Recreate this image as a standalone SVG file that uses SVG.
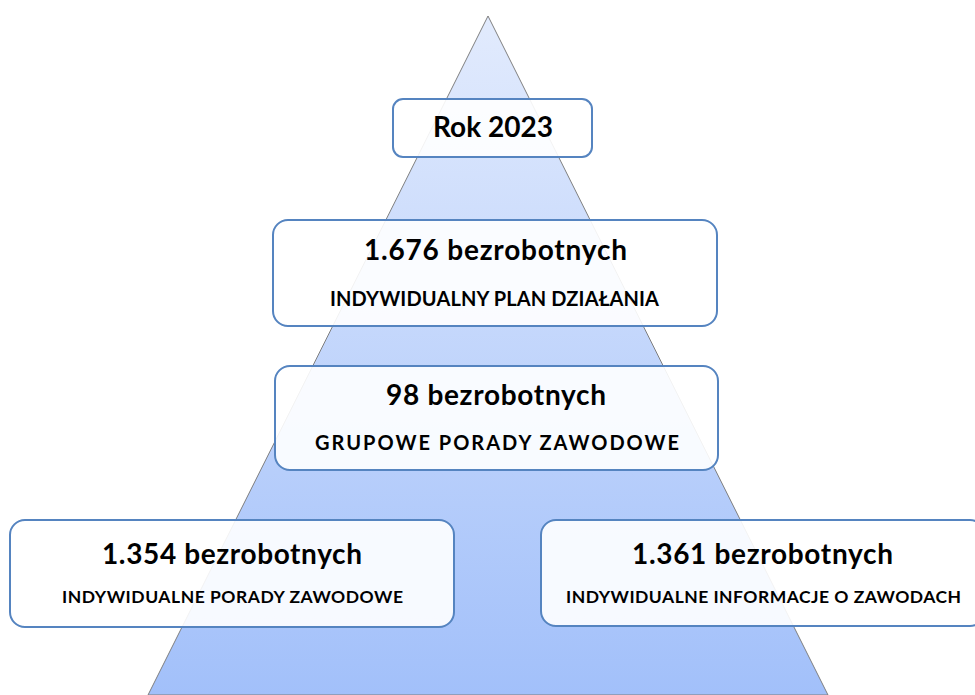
<svg xmlns="http://www.w3.org/2000/svg" width="975" height="695" viewBox="0 0 975 695">
<defs>
<linearGradient id="tri" x1="0" y1="16" x2="0" y2="695" gradientUnits="userSpaceOnUse">
<stop offset="0" stop-color="#e2ebfd"/>
<stop offset="1" stop-color="#a2c0fa"/>
</linearGradient>
<style>
.box{fill:#ffffff;fill-opacity:0.9;stroke:#5584c0;stroke-width:2}
.big{font-family:Lato,"Liberation Sans",sans-serif;font-weight:bold;font-size:28px;fill:#000;text-anchor:middle}
.sub{font-family:Lato,"Liberation Sans",sans-serif;font-weight:bold;font-size:20px;fill:#000;text-anchor:middle}
.sm{font-family:Lato,"Liberation Sans",sans-serif;font-weight:bold;font-size:17.5px;fill:#000;text-anchor:middle}
</style>
</defs>
<rect width="975" height="695" fill="#ffffff"/>
<polygon id="pyramid" points="488,16 148,695 828,695" fill="url(#tri)" stroke="#7f7f7f" stroke-width="1"/>
<g id="rok">
<rect class="box" x="393" y="99" width="199" height="58" rx="10"/>
<text class="big" x="493" y="137" font-size="24.5">Rok 2023</text>
</g>
<g id="ipd">
<rect class="box" x="273" y="220" width="444" height="106" rx="15"/>
<text class="big" x="495.5" y="260" textLength="263">1.676 bezrobotnych</text>
<text class="sub" x="494.5" y="306" textLength="329">INDYWIDUALNY PLAN DZIAŁANIA</text>
</g>
<g id="gpz">
<rect class="box" x="275" y="366" width="443" height="104" rx="15"/>
<text class="big" x="496" y="405" textLength="220">98 bezrobotnych</text>
<text class="sub" x="497" y="450" font-size="22" textLength="364">GRUPOWE PORADY ZAWODOWE</text>
</g>
<g id="ipz">
<rect class="box" x="10" y="520" width="444" height="107" rx="15"/>
<text class="big" x="232" y="564" textLength="260">1.354 bezrobotnych</text>
<text class="sm" x="232.5" y="603" textLength="341">INDYWIDUALNE PORADY ZAWODOWE</text>
</g>
<g id="iiz">
<rect class="box" x="541" y="520" width="444" height="106" rx="15"/>
<text class="big" x="762.5" y="564" textLength="261">1.361 bezrobotnych</text>
<text class="sm" x="763.5" y="603" textLength="395">INDYWIDUALNE INFORMACJE O ZAWODACH</text>
</g>
<g id="connectors"/>
</svg>
